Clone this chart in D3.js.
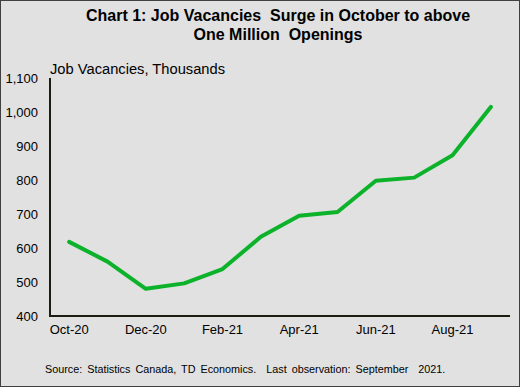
<!DOCTYPE html>
<html>
<head>
<meta charset="utf-8">
<script src="https://cdn.jsdelivr.net/npm/d3@7"></script>
<style>
  body { margin: 0; background: #fff; }
  svg { display: block; font-family: Arial, "Liberation Sans", sans-serif; }
  text { white-space: pre; }
</style>
</head>
<body>
<div id="chart"></div>
<script>
// Data
const months = ["Oct-20", "Nov-20", "Dec-20", "Jan-21", "Feb-21", "Mar-21",
                "Apr-21", "May-21", "Jun-21", "Jul-21", "Aug-21", "Sep-21"];
const vacancies = [618, 560, 480, 496, 538, 633, 695, 706, 798, 807, 873, 1015];
const yTicks = [400, 500, 600, 700, 800, 900, 1000, 1100];
const xTickLabels = ["Oct-20", "Dec-20", "Feb-21", "Apr-21", "Jun-21", "Aug-21"];

const W = 520, H = 387;
const margin = { top: 78, right: 10, bottom: 71, left: 50 };

const svg = d3.select("#chart")
    .append("svg")
    .attr("width", W)
    .attr("height", H);

// Background + frame
svg.append("rect")
    .attr("x", 0.5).attr("y", 0.5)
    .attr("width", W - 1).attr("height", H - 1)
    .attr("fill", "#e1e1e1")
    .attr("stroke", "#404040");

// Scales
const x = d3.scaleBand()
    .domain(months)
    .range([margin.left, W - margin.right]);

const y = d3.scaleLinear()
    .domain([400, 1100])
    .range([H - margin.bottom, margin.top]);

// Title
const title = svg.append("text")
    .attr("text-anchor", "middle")
    .attr("font-size", 16)
    .attr("font-weight", "bold")
    .attr("fill", "#000");
title.append("tspan").attr("x", 278).attr("y", 21)
    .text("Chart 1: Job Vacancies  Surge in October to above");
title.append("tspan").attr("x", 278).attr("y", 40)
    .text("One Million  Openings");

// Y axis
svg.append("g")
    .attr("transform", `translate(${margin.left},0)`)
    .call(d3.axisLeft(y).tickValues(yTicks).tickSize(0).tickPadding(12)
        .tickFormat(d3.format(",")))
    .call(g => g.select(".domain").remove())
    .selectAll("text")
    .attr("font-size", 13)
    .attr("font-family", "Arial, 'Liberation Sans', sans-serif")
    .attr("fill", "#000");

// X axis
svg.append("g")
    .attr("transform", `translate(0,${H - margin.bottom})`)
    .call(d3.axisBottom(x).tickValues(xTickLabels).tickSize(0).tickPadding(9))
    .call(g => g.select(".domain").remove())
    .selectAll("text")
    .attr("font-size", 13)
    .attr("font-family", "Arial, 'Liberation Sans', sans-serif")
    .attr("fill", "#000");

// Axis lines
svg.append("line")
    .attr("x1", margin.left).attr("x2", margin.left)
    .attr("y1", y(1100)).attr("y2", y(400) + 1)
    .attr("stroke", "#1c1c10").attr("stroke-width", 2);
svg.append("line")
    .attr("x1", margin.left - 1).attr("x2", W - margin.right)
    .attr("y1", y(400)).attr("y2", y(400))
    .attr("stroke", "#1c1c10").attr("stroke-width", 2);

// Y axis label
svg.append("text")
    .attr("x", margin.left)
    .attr("y", 74)
    .attr("font-size", 14.7)
    .attr("fill", "#000")
    .text("Job Vacancies, Thousands");

// Line
const line = d3.line()
    .x((d, i) => x(months[i]) + x.bandwidth() / 2)
    .y(d => y(d));

svg.append("path")
    .datum(vacancies)
    .attr("fill", "none")
    .attr("stroke", "#0cb22a")
    .attr("stroke-width", 4)
    .attr("stroke-linejoin", "round")
    .attr("stroke-linecap", "round")
    .attr("d", line);

// Source
svg.append("text")
    .attr("x", 45)
    .attr("y", 373)
    .attr("font-size", 10.8)
    .attr("fill", "#000")
    .attr("word-spacing", 2)
    .text("Source: Statistics Canada, TD Economics.  Last observation: September  2021.");
</script>
</body>
</html>
